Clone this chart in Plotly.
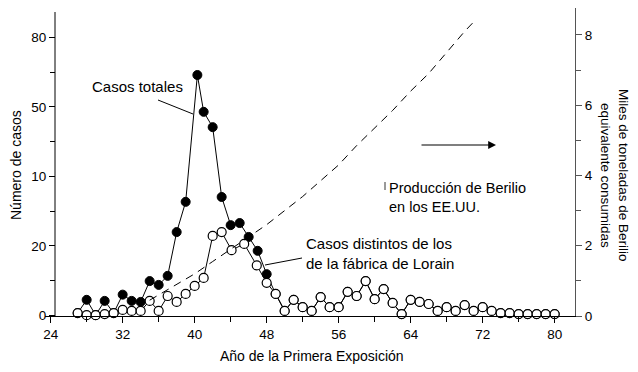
import plotly.graph_objects as go

# ---- data ----
years_other = [27, 28, 29, 30, 31, 32, 33, 34, 35, 36, 37, 38, 39, 40, 41, 42, 43, 44.1, 45.5, 46.9,
               48, 49, 50, 51, 52, 53, 54, 55, 56, 57, 58, 59, 60, 61, 62, 63, 64, 65, 66, 67,
               68, 69, 70, 71, 72, 73, 74, 75, 76, 77, 78, 79, 80]
cases_other = [0.7, 0.1, 0.1, 0.4, 0.7, 1.6, 1.3, 1.3, 4.2, 1.3, 5.6, 3.9, 6.2, 8.5, 10.8, 22.9, 24.0, 18.8, 20.6, 14.4,
               9.4, 6.2, 1.3, 4.5, 2.4, 1.3, 5.3, 2.4, 2.4, 6.8, 5.6, 9.9, 4.7, 7.6, 3.6, 0.4, 4.5, 3.9, 3.3, 1.3,
               2.4, 1.3, 3.0, 1.3, 2.4, 1.3, 0.7, 0.7, 0.4, 0.4, 0.4, 0.4, 0.4]

years_total = [27, 28, 29, 30, 31, 32, 33, 34, 35, 36, 37, 38, 39, 40.3, 41, 42, 43, 44, 45, 46, 47, 48]
cases_total = [0.7, 4.5, 0.1, 4.2, 0.7, 6.0, 4.2, 3.9, 9.9, 8.8, 11.4, 24.0, 32.7, 69.2, 58.6, 54.2, 34.1, 26.0, 26.6, 22.6, 18.6, 11.9]

years_beryl = [35, 36, 38, 40, 42, 44, 46, 48, 50, 52, 54, 56, 58, 60, 62, 64, 66, 68, 70, 71.3]
beryl_kt = [0.45, 0.6, 0.9, 1.2, 1.55, 1.9, 2.25, 2.6, 3.0, 3.4, 3.85, 4.3, 4.85, 5.35, 5.85, 6.4, 6.9, 7.5, 8.1, 8.45]

x_ticks = [24, 32, 40, 48, 56, 64, 72, 80]
x_minor = [28, 36, 44, 52, 60, 68, 76]
left_tickvals = [0, 20, 40, 60, 80]
left_ticktext = ["0", "20", "10", "50", "80"]
left_minor = [10, 30, 50, 70]
right_tickvals = [0, 2, 4, 6, 8]
right_minor = [1, 3, 5, 7]

# total series continues along the "other" series after 1948
tail_x = [x for x in years_other if x > 48]
tail_y = [y for x, y in zip(years_other, cases_other) if x > 48]
tot_x = years_total + tail_x
tot_y = cases_total + tail_y

FONT = "Liberation Sans, Arial, sans-serif"
OFF = 8                      # page body margin
W, H = 638 - OFF, 372 - OFF
# plot area in page pixels: x 45..575, y 8..316
PX0, PX1, PY0, PY1 = 45, 575, 8, 316
ML, MR, MT, MB = PX0 - OFF, 638 - PX1, PY0 - OFF, 372 - PY1

fig = go.Figure()
fig.add_trace(go.Scatter(x=years_beryl, y=beryl_kt, yaxis="y2", mode="lines",
                         line=dict(color="black", width=1, dash="8px,6px"),
                         showlegend=False, hoverinfo="skip"))
fig.add_trace(go.Scatter(x=tot_x, y=tot_y, mode="lines+markers",
                         line=dict(color="black", width=1),
                         marker=dict(symbol="circle", size=9, color="black",
                                     line=dict(color="black", width=1)),
                         cliponaxis=False, showlegend=False))
fig.add_trace(go.Scatter(x=years_other, y=cases_other, mode="lines+markers",
                         line=dict(color="black", width=1),
                         marker=dict(symbol="circle", size=9, color="white",
                                     line=dict(color="black", width=1.2)),
                         cliponaxis=False, showlegend=False))

pw = PX1 - PX0
ph = PY1 - PY0
left_pos = 10 / pw


def py(y):
    return (PY1 - y) / ph


def px(x):
    return (x - PX0) / pw


fig.update_layout(
    width=W, height=H, autosize=False,
    margin=dict(l=ML, r=MR, t=MT, b=MB, pad=0),
    paper_bgcolor="white", plot_bgcolor="white",
    font=dict(family=FONT, size=13, color="black"),
    xaxis=dict(range=[23.37, 82.26], showgrid=False, zeroline=False,
               showline=True, linecolor="black", linewidth=1,
               tickmode="array", tickvals=x_ticks, ticks="outside", ticklen=6,
               tickcolor="black", tickwidth=1,
               minor=dict(tickmode="array", tickvals=x_minor, ticks="outside",
                          ticklen=5, tickcolor="black", showgrid=False),
               tickfont=dict(size=13.5)),
    yaxis=dict(range=[-0.15, (ph / 3.475) - 0.15], showgrid=False, zeroline=False,
               anchor="free", position=left_pos, showline=False,
               tickmode="array", tickvals=left_tickvals, ticktext=left_ticktext,
               ticks="outside", ticklen=6, tickcolor="black", tickwidth=1,
               minor=dict(tickmode="array", tickvals=left_minor, ticks="outside",
                          ticklen=5, tickcolor="black", showgrid=False),
               tickfont=dict(size=13.5)),
    yaxis2=dict(range=[0, ph / 35.14], overlaying="y", side="right", anchor="x",
                showgrid=False, zeroline=False, showline=True, linecolor="#555", linewidth=1,
                tickmode="array", tickvals=right_tickvals, ticks="outside", ticklen=6,
                tickcolor="#555", tickwidth=1,
                minor=dict(tickmode="array", tickvals=right_minor, ticks="outside",
                           ticklen=5, tickcolor="#555", showgrid=False),
                tickfont=dict(size=13.5)),
)

shapes = [
    # left axis line (shorter than the plot area)
    dict(type="line", xref="paper", yref="paper", x0=left_pos, x1=left_pos,
         y0=0, y1=py(12), line=dict(color="black", width=1)),
    # leader lines
    dict(type="line", xref="paper", yref="paper",
         x0=px(158), y0=py(100), x1=px(193), y1=py(114), line=dict(color="black", width=1)),
    dict(type="line", xref="paper", yref="paper",
         x0=px(302), y0=py(258), x1=px(265), y1=py(265), line=dict(color="black", width=1)),
    dict(type="line", xref="paper", yref="paper",
         x0=px(385), y0=py(182), x1=px(385), y1=py(190), line=dict(color="black", width=0.8)),
]
fig.update_layout(shapes=shapes)

ann = [
    dict(text="Casos totales", xref="paper", yref="paper", x=px(137), y=py(87),
         showarrow=False, font=dict(size=15), xanchor="center", yanchor="middle"),
    dict(text="Casos distintos de los<br>de la fábrica de Lorain", xref="paper", yref="paper",
         x=px(304), y=py(253), showarrow=False, font=dict(size=15),
         xanchor="left", yanchor="middle", align="left"),
    dict(text="Producción de Berilio<br>en los EE.UU.", xref="paper", yref="paper",
         x=px(387), y=py(198), showarrow=False, font=dict(size=14.5),
         xanchor="left", yanchor="middle", align="left"),
    dict(text="", xref="paper", yref="paper", axref="pixel", ayref="pixel",
         x=px(496), y=py(145), ax=-76, ay=0,
         showarrow=True, arrowhead=2, arrowsize=1.3, arrowwidth=1.2, arrowcolor="black"),
    dict(text="Año de la Primera Exposición", xref="paper", yref="paper",
         x=px(312), y=py(356), showarrow=False, font=dict(size=14),
         xanchor="center", yanchor="middle"),
    dict(text="Número de casos", xref="paper", yref="paper",
         x=px(16), y=py(165), showarrow=False, font=dict(size=14),
         textangle=-90, xanchor="center", yanchor="middle"),
    dict(text="Miles de toneladas de Berilio<br>equivalente consumidas", xref="paper", yref="paper",
         x=px(614), y=py(175), showarrow=False, font=dict(size=13.5),
         textangle=90, xanchor="center", yanchor="middle", align="center"),
]
fig.update_layout(annotations=ann)

fig.write_html("out.html")
